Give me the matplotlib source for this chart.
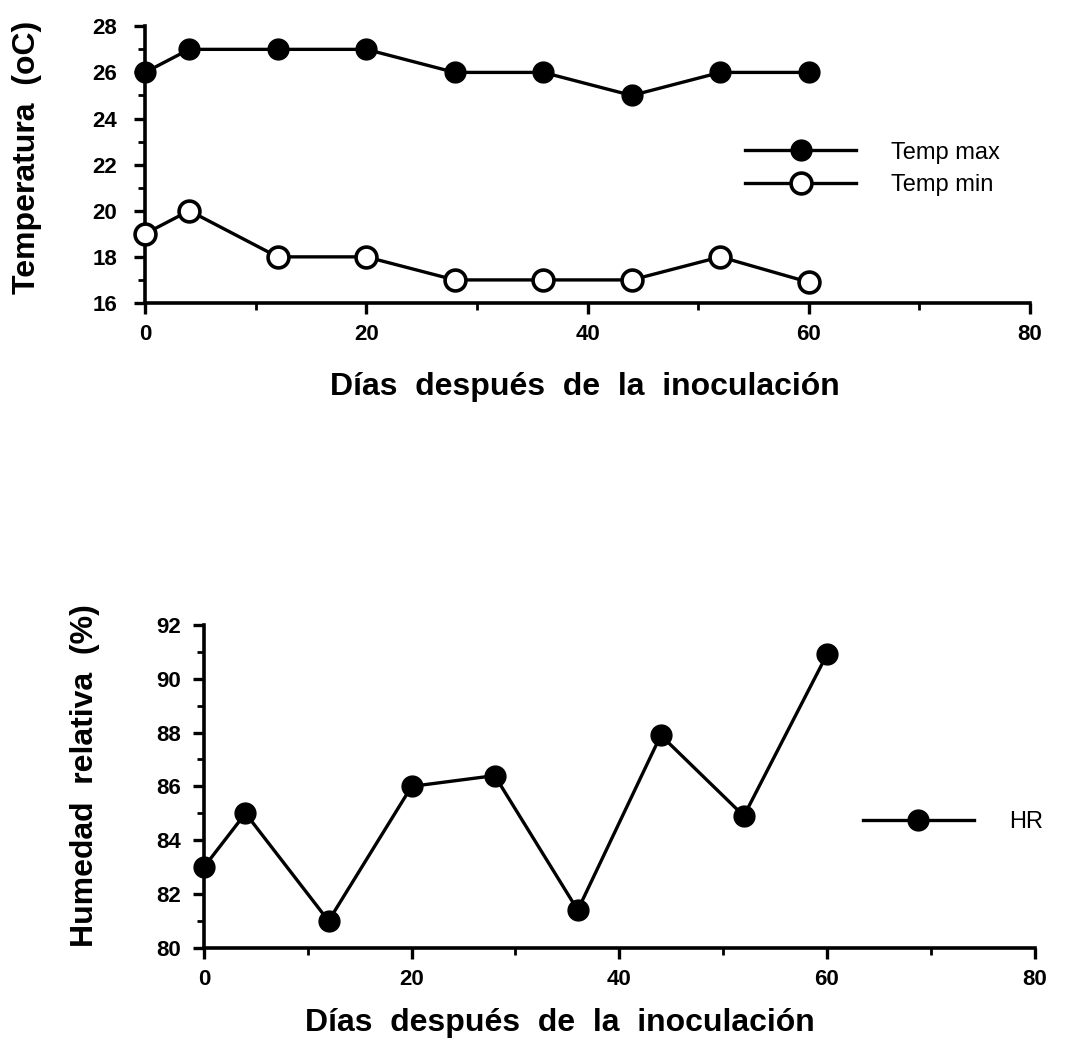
import matplotlib
matplotlib.use("Agg")
import matplotlib.pyplot as plt
from matplotlib.ticker import MultipleLocator

plt.rcParams['font.family'] = ['Liberation Sans', 'DejaVu Sans']

# days after inoculation
dias = [0, 4, 12, 20, 28, 36, 44, 52, 60]
temp_max = [26, 27, 27, 27, 26, 26, 25, 26, 26]
temp_min = [19, 20, 18, 18, 17, 17, 17, 18, 16.9]
hr = [83, 85, 81, 86, 86.4, 81.4, 87.9, 84.9, 90.9]

fig = plt.figure(figsize=(10.69, 10.52), dpi=100)
ax1 = fig.add_axes([0.1356, 0.712, 0.828, 0.263])
ax2 = fig.add_axes([0.1908, 0.099, 0.777, 0.307])

line_kw = dict(color='black', lw=2.4, markersize=15, clip_on=False, zorder=3)

ax1.plot(dias, temp_max, marker='o', mfc='black', mec='black', label='Temp max', **line_kw)
ax1.plot(dias, temp_min, marker='o', mfc='white', mec='black', mew=2.6, label='Temp min', **line_kw)
ax2.plot(dias, hr, marker='o', mfc='black', mec='black', label='HR', **line_kw)

def style(ax, ylo, yhi, ypad):
    ax.set_xlim(0, 80)
    ax.set_ylim(ylo, yhi)
    ax.xaxis.set_major_locator(MultipleLocator(20))
    ax.xaxis.set_minor_locator(MultipleLocator(10))
    ax.yaxis.set_major_locator(MultipleLocator(2))
    ax.yaxis.set_minor_locator(MultipleLocator(1))
    for s in ['top', 'right']:
        ax.spines[s].set_visible(False)
    for s in ['left', 'bottom']:
        ax.spines[s].set_linewidth(2.6)
    ax.tick_params(which='major', length=8, width=2.4, direction='out', labelsize=16)
    ax.tick_params(axis='x', pad=7)
    ax.tick_params(axis='y', pad=ypad)
    ax.tick_params(which='minor', length=5, width=2.0, direction='out')
    for lab in ax.get_xticklabels() + ax.get_yticklabels():
        lab.set_fontweight('bold')

style(ax1, 16, 28, 12)
style(ax2, 80, 92, 8.5)

ax1.set_ylabel('Temperatura  (oC)', fontsize=23, fontweight='bold')
ax1.yaxis.set_label_coords(-0.116, 0.527)
ax1.set_xlabel('Días  después  de  la  inoculación', fontsize=23, fontweight='bold')
ax1.xaxis.set_label_coords(0.497, -0.249)
ax2.set_ylabel('Humedad  relativa  (%)', fontsize=23, fontweight='bold')
ax2.yaxis.set_label_coords(-0.125, 0.532)
ax2.set_xlabel('Días  después  de  la  inoculación', fontsize=23, fontweight='bold')
ax2.xaxis.set_label_coords(0.428, -0.186)

ax1.legend(loc='center left', bbox_to_anchor=(0.678, 0.484), frameon=False, fontsize=17,
           handlelength=4.7, handletextpad=1.5, labelspacing=0.45,
           borderpad=0, borderaxespad=0)
ax2.legend(loc='center left', bbox_to_anchor=(0.793, 0.39), frameon=False, fontsize=17,
           handlelength=4.7, handletextpad=1.5, borderpad=0, borderaxespad=0)

fig.savefig('out.png', dpi=100)
